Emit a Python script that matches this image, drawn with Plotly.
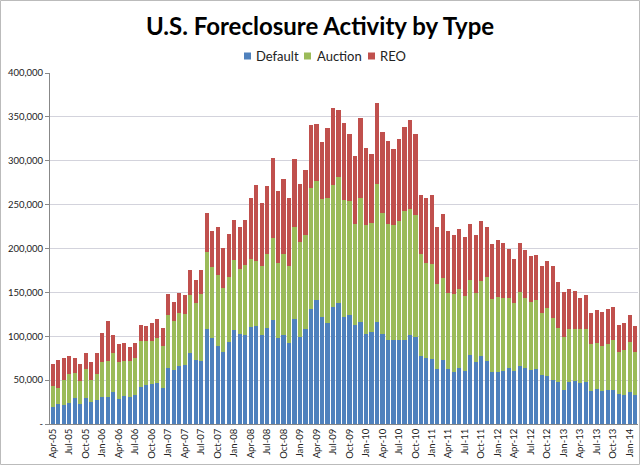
import plotly.graph_objects as go
import pandas as pd

months = [d.strftime("%b-%y") for d in pd.date_range("2005-04-01", "2014-02-01", freq="MS")]

# cumulative tops (thousands): default, default+auction, total
cum_default = [19.5, 23, 22, 23.7, 30, 23, 30, 25, 27, 31, 31, 36.6, 29, 32, 31, 33.6, 42, 44.5, 46, 47,
               41, 64, 61, 66, 67, 81, 73, 72, 108, 98, 89, 82, 94, 107, 103, 101, 111, 111.5, 102, 109.6,
               118, 98, 101, 92.5, 120, 99, 108, 131, 141, 122, 115, 133.5, 138, 122, 123.7, 113, 116, 103, 105, 116,
               103, 95.5, 95.5, 96, 95.5, 102, 99, 78, 75, 74, 63, 72.5, 63, 59, 63.5, 60, 79, 71, 78, 71.5,
               59, 59, 60, 64, 60, 66.6, 64, 61, 63, 55.6, 55, 50, 47.6, 39, 47.6, 49.5, 47, 47.6, 38, 40,
               38, 39, 39, 34.7, 33.5, 37, 33.5]
cum_auction = [43, 41, 49.6, 57, 57.6, 49, 63, 50, 57, 71, 72, 81, 70.6, 72, 72, 75.6, 94.7, 95, 95, 98.5,
               89, 124, 117.6, 126, 125.6, 147, 138, 148, 196, 179, 170, 155, 167, 187, 177, 181, 188, 186, 180, 194,
               212, 184, 194, 180, 224.5, 207, 215, 269, 277, 256, 257, 272.5, 281.6, 255, 254, 228, 257, 227, 229, 274,
               240, 228, 227, 231, 243, 245, 238, 194, 183, 182, 160, 166.5, 149, 148, 154, 146, 163.6, 149.5, 163, 168,
               142.7, 144.6, 144, 144, 137.7, 151, 144, 139, 141, 126.5, 132, 121, 109, 99.5, 108.6, 108.6, 108.6, 108.6, 91.5, 92.6,
               88.8, 91.5, 95.7, 82, 84, 93.8, 82]
cum_total = [68, 73, 75, 78, 75.6, 68, 81, 71, 81, 104, 117, 101, 91, 92, 88, 92, 113, 112, 115, 119.5,
             109, 148, 139, 149, 147, 176, 164, 175, 240, 220, 224, 201, 216, 233, 224, 232, 258, 272, 251.5, 271,
             303, 265.6, 279, 258, 302.5, 273, 290, 340.6, 342, 321, 337, 359.6, 357.7, 343, 331, 305.6, 348.6, 314, 307.5, 366,
             333, 322, 313, 324.6, 338, 346, 331, 261, 257, 261, 224.5, 239.5, 219.5, 215, 222.6, 213, 228, 215, 231, 224.5,
             205.5, 210, 206.6, 199, 188, 206, 198, 191, 193, 180, 186, 180, 162, 150, 153.6, 151.7, 144, 147, 127, 130,
             128, 130.7, 133, 113, 114.7, 124, 112]

default = [round(a * 1000) for a in cum_default]
auction = [round((b - a) * 1000) for a, b in zip(cum_default, cum_auction)]
reo = [round((c - b) * 1000) for b, c in zip(cum_auction, cum_total)]

series_names = ["Default", "Auction", "REO"]
series_colors = ["#4F81BD", "#9BBB59", "#C0504D"]

y_ticks = [0, 50000, 100000, 150000, 200000, 250000, 300000, 350000, 400000]
y_labels = ["-", "50,000", "100,000", "150,000", "200,000", "250,000", "300,000", "350,000", "400,000"]

FONT = "Lato, 'Open Sans', sans-serif"
W, H = 640, 465
ML, MR, MT, MB = 50, 2, 73, 41
PW, PH = W - ML - MR, H - MT - MB


def px_x(x):
    return (x - ML) / PW


def px_y(y):
    return (H - MB - y) / PH


fig = go.Figure()
for name, vals, col in zip(series_names, [default, auction, reo], series_colors):
    fig.add_bar(x=months, y=vals, name=name, marker_color=col, marker_line_width=0)

fig.update_layout(
    barmode="stack",
    bargap=0.25,
    width=W, height=H,
    margin=dict(l=ML, r=MR, t=MT, b=MB),
    paper_bgcolor="white", plot_bgcolor="white",
    font=dict(family=FONT, color="#333333"),
    title=dict(text="<b>U.S. Foreclosure Activity by Type</b>", x=0.5, xanchor="center",
               y=1 - 27 / H, yanchor="middle", font=dict(size=24, color="black", family=FONT)),
    showlegend=False,
)

# legend drawn as swatches + text
leg_sw = [244, 304, 368]
leg_tx = [254, 315, 378]
for name, col, sx, tx in zip(series_names, series_colors, leg_sw, leg_tx):
    fig.add_shape(type="rect", xref="paper", yref="paper",
                  x0=px_x(sx), x1=px_x(sx + 7), y0=px_y(59.5), y1=px_y(52.5),
                  fillcolor=col, line_width=0)
    fig.add_annotation(text=name, xref="paper", yref="paper", x=px_x(tx), y=px_y(56),
                       xanchor="left", yanchor="middle", showarrow=False,
                       font=dict(size=13, color="#222222", family=FONT))

fig.update_xaxes(
    type="category", tickmode="array", tickvals=months[::3], ticktext=months[::3],
    tickangle=-90, tickfont=dict(size=9.5, color="#222222"),
    showline=True, linecolor="#888888", linewidth=1, ticks="",
    showgrid=False,
)
fig.update_yaxes(
    range=[0, 400000], tickmode="array", tickvals=y_ticks, ticktext=y_labels,
    tickfont=dict(size=9.5, color="#222222"), showgrid=True, gridcolor="#D3D3DC", gridwidth=1,
    showline=True, linecolor="#888888", linewidth=1, ticks="outside", ticklen=4, tickcolor="#888888",
    zeroline=False,
)
fig.add_shape(type="rect", xref="paper", yref="paper",
              x0=px_x(0.5), x1=px_x(W - 0.5), y0=px_y(H - 0.5), y1=px_y(0.5),
              line=dict(color="#BBBBBB", width=1), fillcolor="rgba(0,0,0,0)", layer="below")

fig.write_html("out.html", config={"displayModeBar": False},
               post_script="document.body.style.margin='0';document.body.style.overflow='hidden';")
